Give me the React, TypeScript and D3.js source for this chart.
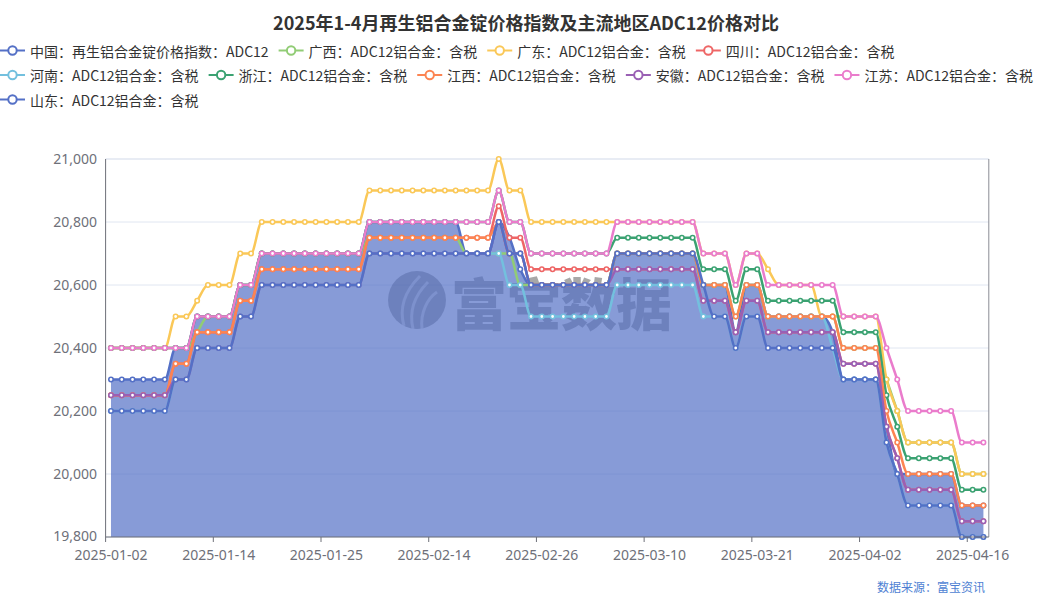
import React from 'react';
import * as d3 from 'd3';

const categories = [
  '2025-01-02','2025-01-03','2025-01-04','2025-01-06','2025-01-07','2025-01-08','2025-01-09','2025-01-10','2025-01-11','2025-01-13',
  '2025-01-14','2025-01-15','2025-01-16','2025-01-17','2025-01-18','2025-01-20','2025-01-21','2025-01-22','2025-01-23','2025-01-24',
  '2025-01-25','2025-01-27','2025-02-05','2025-02-06','2025-02-07','2025-02-08','2025-02-10','2025-02-11','2025-02-12','2025-02-13',
  '2025-02-14','2025-02-15','2025-02-17','2025-02-18','2025-02-19','2025-02-20','2025-02-21','2025-02-22','2025-02-24','2025-02-25',
  '2025-02-26','2025-02-27','2025-02-28','2025-03-01','2025-03-03','2025-03-04','2025-03-05','2025-03-06','2025-03-07','2025-03-08',
  '2025-03-10','2025-03-11','2025-03-12','2025-03-13','2025-03-14','2025-03-15','2025-03-17','2025-03-18','2025-03-19','2025-03-20',
  '2025-03-21','2025-03-22','2025-03-24','2025-03-25','2025-03-26','2025-03-27','2025-03-28','2025-03-29','2025-03-31','2025-04-01',
  '2025-04-02','2025-04-03','2025-04-07','2025-04-08','2025-04-09','2025-04-10','2025-04-11','2025-04-12','2025-04-14','2025-04-15',
  '2025-04-16','2025-04-17'
];

const china = [
  20300,20300,20300,20300,20300,20300,20400,20400,20500,20500,
  20500,20500,20600,20600,20700,20700,20700,20700,20700,20700,
  20700,20700,20700,20700,20800,20800,20800,20800,20800,20800,
  20800,20800,20800,20700,20700,20700,20800,20750,20650,20600,
  20600,20600,20600,20600,20600,20600,20600,20700,20700,20700,
  20700,20700,20700,20700,20700,20600,20600,20600,20450,20600,
  20600,20500,20500,20500,20500,20500,20500,20450,20300,20300,
  20300,20300,20150,20000,20000,20000,20000,20000,20000,19900,
  19900,19900
];
const guangxi = [
  20400,20400,20400,20400,20400,20400,20400,20400,20450,20500,
  20500,20500,20600,20600,20700,20700,20700,20700,20700,20700,
  20700,20700,20700,20700,20750,20750,20750,20750,20750,20750,
  20750,20750,20750,20700,20700,20700,20700,20700,20600,20600,
  20600,20600,20600,20600,20600,20600,20600,20700,20700,20700,
  20700,20700,20700,20700,20700,20600,20600,20600,20500,20600,
  20600,20500,20500,20500,20500,20500,20500,20500,20400,20400,
  20400,20400,20300,20200,20100,20100,20100,20100,20100,20000,
  20000,20000
];
const guangdong = [
  20400,20400,20400,20400,20400,20400,20500,20500,20550,20600,
  20600,20600,20700,20700,20800,20800,20800,20800,20800,20800,
  20800,20800,20800,20800,20900,20900,20900,20900,20900,20900,
  20900,20900,20900,20900,20900,20900,21000,20900,20900,20800,
  20800,20800,20800,20800,20800,20800,20800,20800,20800,20800,
  20800,20800,20800,20800,20800,20700,20700,20700,20600,20700,
  20700,20650,20600,20600,20600,20600,20500,20500,20500,20500,
  20500,20500,20300,20200,20100,20100,20100,20100,20100,20000,
  20000,20000
];
const sichuan = [
  20250,20250,20250,20250,20250,20250,20350,20350,20450,20450,
  20450,20450,20550,20550,20650,20650,20650,20650,20650,20650,
  20650,20650,20650,20650,20750,20750,20750,20750,20750,20750,
  20750,20750,20750,20750,20750,20750,20850,20750,20750,20650,
  20650,20650,20650,20650,20650,20650,20650,20650,20650,20650,
  20650,20650,20650,20650,20650,20550,20550,20550,20450,20550,
  20550,20450,20450,20450,20450,20450,20450,20450,20350,20350,
  20350,20350,20150,20050,19950,19950,19950,19950,19950,19850,
  19850,19850
];
const henan = [
  20200,20200,20200,20200,20200,20200,20300,20300,20400,20400,
  20400,20400,20500,20500,20600,20600,20600,20600,20600,20600,
  20600,20600,20600,20600,20700,20700,20700,20700,20700,20700,
  20700,20700,20700,20700,20700,20700,20700,20600,20600,20500,
  20500,20500,20500,20500,20500,20500,20500,20600,20600,20600,
  20600,20600,20600,20600,20600,20500,20500,20500,20400,20500,
  20500,20500,20500,20500,20500,20500,20500,20400,20300,20300,
  20300,20300,20100,20000,19900,19900,19900,19900,19900,19800,
  19800,19800
];
const zhejiang = [
  20400,20400,20400,20400,20400,20400,20400,20400,20500,20500,
  20500,20500,20600,20600,20700,20700,20700,20700,20700,20700,
  20700,20700,20700,20700,20800,20800,20800,20800,20800,20800,
  20800,20800,20800,20800,20800,20800,20900,20800,20800,20700,
  20700,20700,20700,20700,20700,20700,20700,20750,20750,20750,
  20750,20750,20750,20750,20750,20650,20650,20650,20550,20650,
  20650,20550,20550,20550,20550,20550,20550,20550,20450,20450,
  20450,20450,20250,20150,20050,20050,20050,20050,20050,19950,
  19950,19950
];
const jiangxi = [
  20250,20250,20250,20250,20250,20250,20350,20350,20450,20450,
  20450,20450,20550,20550,20650,20650,20650,20650,20650,20650,
  20650,20650,20650,20650,20750,20750,20750,20750,20750,20750,
  20750,20750,20750,20750,20750,20750,20800,20700,20700,20600,
  20600,20600,20600,20600,20600,20600,20600,20700,20700,20700,
  20700,20700,20700,20700,20700,20600,20600,20600,20500,20600,
  20600,20500,20500,20500,20500,20500,20500,20500,20400,20400,
  20400,20400,20200,20100,20000,20000,20000,20000,20000,19900,
  19900,19900
];
const anhui = [
  20250,20250,20250,20250,20250,20250,20300,20300,20400,20400,
  20400,20400,20500,20500,20600,20600,20600,20600,20600,20600,
  20600,20600,20600,20600,20700,20700,20700,20700,20700,20700,
  20700,20700,20700,20700,20700,20700,20800,20700,20700,20600,
  20600,20600,20600,20600,20600,20600,20600,20650,20650,20650,
  20650,20650,20650,20650,20650,20550,20550,20550,20450,20550,
  20550,20450,20450,20450,20450,20450,20450,20450,20350,20350,
  20350,20350,20150,20050,19950,19950,19950,19950,19950,19850,
  19850,19850
];
const jiangsu = [
  20400,20400,20400,20400,20400,20400,20400,20400,20500,20500,
  20500,20500,20600,20600,20700,20700,20700,20700,20700,20700,
  20700,20700,20700,20700,20800,20800,20800,20800,20800,20800,
  20800,20800,20800,20800,20800,20800,20900,20800,20800,20700,
  20700,20700,20700,20700,20700,20700,20700,20800,20800,20800,
  20800,20800,20800,20800,20800,20700,20700,20700,20600,20700,
  20700,20600,20600,20600,20600,20600,20600,20600,20500,20500,
  20500,20500,20400,20300,20200,20200,20200,20200,20200,20100,
  20100,20100
];
const shandong = [
  20200,20200,20200,20200,20200,20200,20300,20300,20400,20400,
  20400,20400,20500,20500,20600,20600,20600,20600,20600,20600,
  20600,20600,20600,20600,20700,20700,20700,20700,20700,20700,
  20700,20700,20700,20700,20700,20700,20800,20700,20700,20600,
  20600,20600,20600,20600,20600,20600,20600,20700,20700,20700,
  20700,20700,20700,20700,20700,20600,20500,20500,20400,20500,
  20500,20400,20400,20400,20400,20400,20400,20400,20300,20300,
  20300,20300,20100,20000,19900,19900,19900,19900,19900,19800,
  19800,19800
];

const seriesNames = [
  '中国：再生铝合金锭价格指数：ADC12',
  '广西：ADC12铝合金：含税',
  '广东：ADC12铝合金：含税',
  '四川：ADC12铝合金：含税',
  '河南：ADC12铝合金：含税',
  '浙江：ADC12铝合金：含税',
  '江西：ADC12铝合金：含税',
  '安徽：ADC12铝合金：含税',
  '江苏：ADC12铝合金：含税',
  '山东：ADC12铝合金：含税'
];
const seriesData = [china, guangxi, guangdong, sichuan, henan, zhejiang, jiangxi, anhui, jiangsu, shandong];
const seriesColors = ['#5470c6', '#91cc75', '#fac858', '#ee6666', '#73c0de', '#3ba272', '#fc8452', '#9a60b4', '#ea7ccc', '#5470c6'];
const yTicks = [19800, 20000, 20200, 20400, 20600, 20800, 21000];
const legendRows = [[0, 1, 2, 3], [4, 5, 6, 7, 8], [9]];
const titleText = '2025年1-4月再生铝合金锭价格指数及主流地区ADC12价格对比';
const sourceText = '数据来源：富宝资讯';
const watermarkText = '富宝数据';

const FONT = "'Noto Sans CJK SC', 'Noto Sans', sans-serif";
const NUM_FONT = "'Noto Sans', 'DejaVu Sans', sans-serif";

function measure(text: string, size: number): number {
  const c = document.createElement('canvas');
  const ctx = c.getContext('2d');
  if (!ctx) return text.length * size;
  ctx.font = `${size}px 'Noto Sans CJK SC'`;
  return ctx.measureText(text).width;
}

export default function App() {
  const W = 1052, H = 600;
  const left = 105.6, right = 988.8, top = 159, bottom = 537;
  const x = d3.scaleBand<string>().domain(categories).range([left, right]).paddingInner(0).paddingOuter(0);
  const y = d3.scaleLinear().domain([19800, 21000]).range([bottom, top]);
  const bw = x.bandwidth();
  const cx = (i: number) => (x(categories[i]) as number) + bw / 2;

  const line = d3.line<number>().x((_, i) => cx(i)).y(d => y(d)).curve(d3.curveMonotoneX);
  const area = d3.area<number>().x((_, i) => cx(i)).y0(bottom).y1(d => y(d)).curve(d3.curveMonotoneX);

  const tickIdx = categories.map((_, i) => i).filter(i => i % 10 === 0);

  const rowY = [50.5, 75, 99.5];
  const legendItems: { i: number; x: number; y: number }[] = [];
  legendRows.forEach((row, r) => {
    let lx = 0;
    row.forEach(i => {
      legendItems.push({ i, x: lx, y: rowY[r] });
      lx += 25 + 5 + measure(seriesNames[i], 14) + 10;
    });
  });

  return (
    <svg width={W} height={H} style={{ position: 'absolute', left: 0, top: 0, background: '#fff' }} fontFamily={FONT}>
      <text x={526} y={22} textAnchor="middle" dominantBaseline="central" fontSize={18} fontWeight="bold" fill="#333">{titleText}</text>

      {legendItems.map(({ i, x: lx, y: ly }) => (
        <g key={'lg' + i}>
          <line x1={lx} x2={lx + 25} y1={ly} y2={ly} stroke={seriesColors[i]} strokeWidth={2} />
          <circle cx={lx + 12.5} cy={ly} r={4.2} fill="#fff" stroke={seriesColors[i]} strokeWidth={2} />
          <text x={lx + 30} y={ly} dominantBaseline="central" fontSize={14} fill="#333">{seriesNames[i]}</text>
        </g>
      ))}

      {yTicks.map(t => (
        <g key={'y' + t}>
          <line x1={left} x2={right} y1={y(t)} y2={y(t)} stroke="#e0e6f1" strokeWidth={t === 21000 ? 1.5 : 1} />
          <text x={97} y={y(t) + (t === 19800 ? 4 : 5)} textAnchor="end" fontFamily={NUM_FONT} fontSize={14} fill="#6e7079">{d3.format(',')(t)}</text>
        </g>
      ))}

      <g opacity={0.42}>
        <circle cx={417} cy={300} r={29} fill="#333" />
        <path d="M 404 326 C 398 305, 408 288, 420 276" stroke="#fff" strokeWidth={3} fill="none" opacity={0.6} />
        <path d="M 413 329 C 408 308, 418 292, 428 282" stroke="#fff" strokeWidth={3} fill="none" opacity={0.6} />
        <path d="M 422 329 C 420 312, 428 298, 437 292" stroke="#fff" strokeWidth={3} fill="none" opacity={0.6} />
        <text x={451} y={300} dominantBaseline="central" fontSize={56} fontWeight={900} fill="#333" letterSpacing={-1}>{watermarkText}</text>
      </g>

      <path d={area(china) || ''} fill="#5470c6" fillOpacity={0.7} />

      {seriesData.map((data, s) => (
        <g key={'s' + s}>
          <path d={line(data) || ''} fill="none" stroke={seriesColors[s]} strokeWidth={2.5} strokeLinejoin="round" />
          {data.map((v, i) => (
            <circle key={i} cx={cx(i)} cy={y(v)} r={2.2} fill="#fff" stroke={seriesColors[s]} strokeWidth={1.6} />
          ))}
        </g>
      ))}

      <line x1={left} x2={left} y1={top} y2={bottom} stroke="#6e7079" strokeWidth={1} />
      <line x1={right} x2={right} y1={top} y2={bottom} stroke="#8a8c94" strokeWidth={1} />
      <line x1={left} x2={right} y1={bottom} y2={bottom} stroke="#6e7079" strokeWidth={1} />
      {tickIdx.map(i => (
        <g key={'x' + i}>
          <line x1={x(categories[i]) as number} x2={x(categories[i]) as number} y1={bottom} y2={bottom + 5} stroke="#6e7079" />
          <text x={cx(i)} y={560} textAnchor="middle" fontFamily={NUM_FONT} fontSize={14} fill="#6e7079">{categories[i]}</text>
        </g>
      ))}

      <text x={985} y={586} textAnchor="end" dominantBaseline="central" fontSize={12} fill="#4e7fd3">{sourceText}</text>
    </svg>
  );
}
